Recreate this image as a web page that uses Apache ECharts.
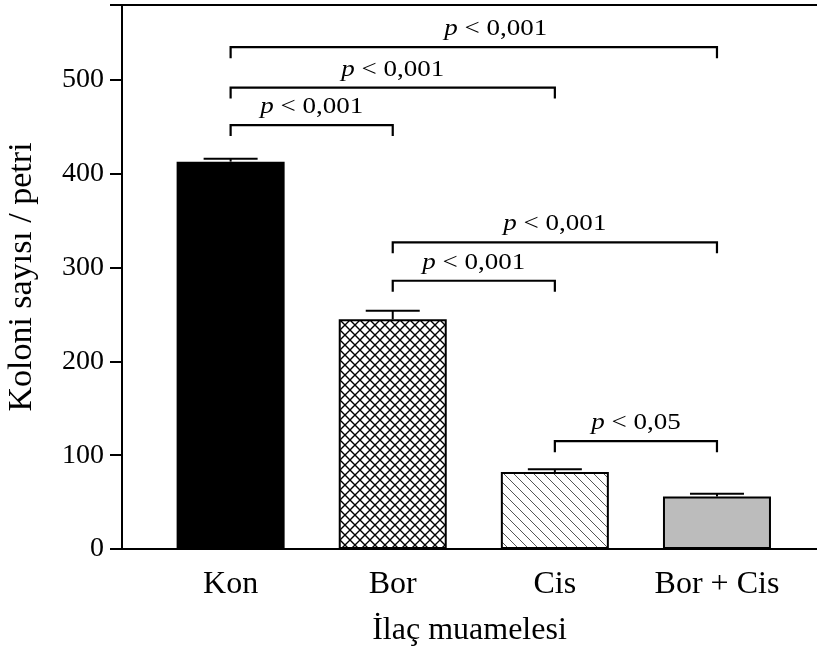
<!DOCTYPE html>
<html>
<head>
<meta charset="utf-8">
<script src="https://cdn.jsdelivr.net/npm/echarts@6/dist/echarts.min.js"></script>
<style>html,body{margin:0;padding:0;background:#fff}#c{width:817px;height:648px}</style>
</head>
<body>
<div id="c"></div>
<script>
// ---- data ----
const categories = ['Kon', 'Bor', 'Cis', 'Bor + Cis'];
const colonyMeans = [413, 245, 82, 56];
const colonySEM = [3, 9, 3, 3];
const yTickValues = [0, 100, 200, 300, 400, 500];
// significance brackets (category index from / to, bracket level in y units, p text)
const bracketFrom = [0, 0, 0, 1, 1, 2];
const bracketTo = [1, 2, 3, 2, 3, 3];
const bracketLevel = [452, 492, 535, 286, 327, 115];
const bracketP = ['< 0,001', '< 0,001', '< 0,001', '< 0,001', '< 0,001', '< 0,05'];

// ---- patterns ----
function makeCross() {
  const c = document.createElement('canvas'); c.width = 10; c.height = 10;
  const g = c.getContext('2d');
  g.fillStyle = '#fff'; g.fillRect(0, 0, 10, 10);
  g.strokeStyle = '#000'; g.lineWidth = 1.4;
  g.beginPath();
  g.moveTo(-1, -1); g.lineTo(11, 11);
  g.moveTo(11, -1); g.lineTo(-1, 11);
  g.stroke();
  return c;
}
function makeDiag() {
  const c = document.createElement('canvas'); c.width = 10; c.height = 10;
  const g = c.getContext('2d');
  g.fillStyle = '#fff'; g.fillRect(0, 0, 10, 10);
  g.strokeStyle = '#555'; g.lineWidth = 1;
  g.beginPath();
  g.moveTo(-1, -1); g.lineTo(11, 11);
  g.moveTo(-1, 9); g.lineTo(1, 11);
  g.moveTo(9, -1); g.lineTo(11, 1);
  g.stroke();
  return c;
}
const fills = [
  '#000',
  { image: makeCross(), repeat: 'repeat' },
  { image: makeDiag(), repeat: 'repeat' },
  '#bcbcbc'
];

const FONT = '"Liberation Serif", "Times New Roman", serif';
const chart = echarts.init(document.getElementById('c'));

const barData = colonyMeans.map((v, i) => ({
  value: [i, v],
  itemStyle: { color: fills[i], borderColor: '#000', borderWidth: 2 }
}));
const errData = colonyMeans.map((v, i) => [i, v, colonySEM[i]]);
const brData = bracketFrom.map((f, i) => [f, bracketTo[i], bracketLevel[i], i]);

const xMin = -0.67, xMax = 3.617;

chart.setOption({
  animation: false,
  backgroundColor: '#fff',
  grid: { left: 122, right: 0, top: 5, bottom: 99, containLabel: false, outerBoundsMode: 'none' },
  xAxis: [{
    type: 'value', min: xMin, max: xMax,
    axisLine: { show: true, onZero: false, lineStyle: { color: '#000', width: 2 } },
    axisTick: { show: false },
    splitLine: { show: false },
    axisLabel: {
      customValues: [0, 1, 2, 3],
      formatter: v => categories[Math.round(v)],
      color: '#000', fontFamily: FONT, fontSize: 32, margin: 20
    },
    name: 'İlaç muamelesi', nameLocation: 'middle', nameGap: 66,
    nameTextStyle: { color: '#000', fontFamily: FONT, fontSize: 32 }
  }, {
    type: 'value', position: 'top', min: xMin, max: xMax,
    axisLine: { show: true, onZero: false, lineStyle: { color: '#000', width: 2 } },
    axisTick: { show: false }, axisLabel: { show: false }, splitLine: { show: false }
  }],
  yAxis: {
    type: 'value', min: 0, max: 580, interval: 100,
    axisLine: { show: true, onZero: false, lineStyle: { color: '#000', width: 2 } },
    axisTick: { show: true, length: 12, lineStyle: { color: '#000', width: 2 } },
    splitLine: { show: false },
    axisLabel: {
      color: '#000', fontFamily: FONT, fontSize: 28, margin: 18,
      formatter: v => (yTickValues.indexOf(v) >= 0 ? String(v) : '')
    },
    name: 'Koloni sayısı / petri', nameLocation: 'middle', nameGap: 83,
    nameTextStyle: { color: '#000', fontFamily: FONT, fontSize: 34 }
  },
  series: [{
    type: 'bar', data: barData, barWidth: 108, xAxisIndex: 0
  }, {
    type: 'custom', xAxisIndex: 0, data: errData, z: 3,
    renderItem: function (params, api) {
      const x = api.value(0), v = api.value(1), e = api.value(2);
      const p0 = api.coord([x, v]);
      const p1 = api.coord([x, v + e]);
      return {
        type: 'group', children: [
          { type: 'line', shape: { x1: p0[0], y1: p0[1], x2: p1[0], y2: p1[1] }, style: { stroke: '#000', lineWidth: 2 } },
          { type: 'line', shape: { x1: p1[0] - 27, y1: p1[1], x2: p1[0] + 27, y2: p1[1] }, style: { stroke: '#000', lineWidth: 2 } }
        ]
      };
    }
  }, {
    type: 'custom', xAxisIndex: 0, data: brData, z: 4,
    renderItem: function (params, api) {
      const a = api.value(0), b = api.value(1), lv = api.value(2), idx = api.value(3);
      const p1 = api.coord([a, lv]);
      const p2 = api.coord([b, lv]);
      const drop = 11;
      const shift = idx === 2 ? 22 : 0;
      return {
        type: 'group', children: [
          { type: 'polyline', shape: { points: [[p1[0], p1[1] + drop], [p1[0], p1[1]], [p2[0], p2[1]], [p2[0], p2[1] + drop]] },
            style: { stroke: '#000', lineWidth: 2.2, fill: null } },
          { type: 'text', x: (p1[0] + p2[0]) / 2 + shift, y: p1[1] - 18, scaleX: 1.15,
            style: {
              text: '{i|p} ' + bracketP[idx],
              align: 'center', verticalAlign: 'middle',
              fontFamily: FONT, fontSize: 23.5, fill: '#000',
              rich: { i: { fontStyle: 'italic', fontFamily: FONT, fontSize: 23.5, fill: '#000' } }
            } }
        ]
      };
    }
  }]
});
</script>
</body>
</html>
